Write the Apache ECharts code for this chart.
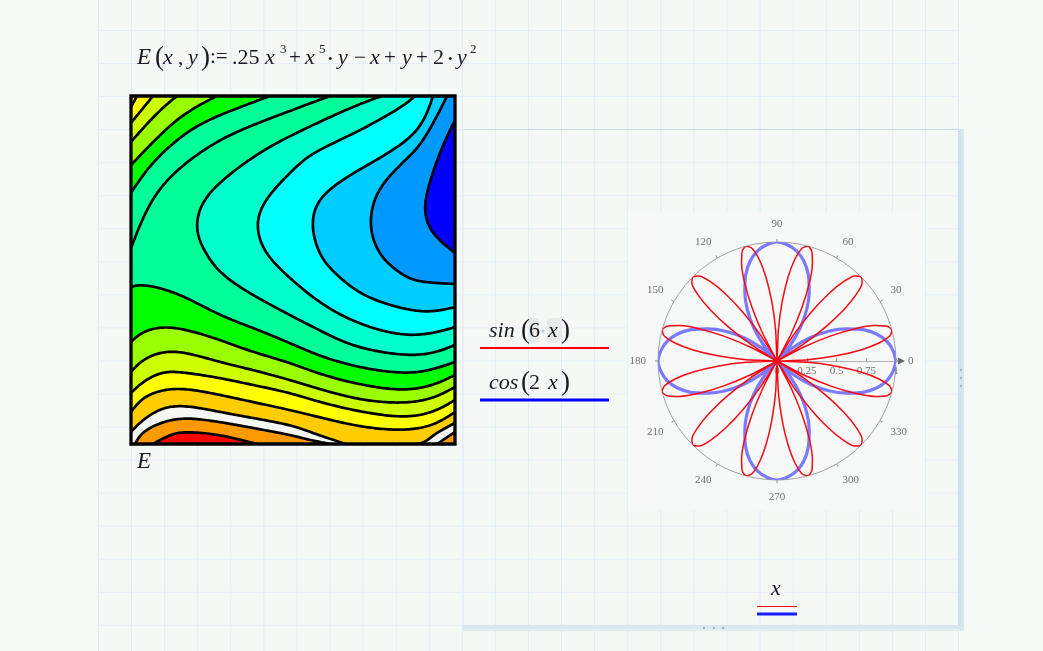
<!DOCTYPE html>
<html><head><meta charset="utf-8">
<style>
html,body{margin:0;padding:0;width:1043px;height:651px;overflow:hidden;background:#f5faf7}
.abs{position:absolute}
#sheet{left:98px;top:0;width:861px;height:651px;background-color:#f5f9f6;
 background-image:linear-gradient(to right,#dfedf7 1px,transparent 1px),linear-gradient(to bottom,#e4eff7 1px,transparent 1px);
 background-size:33.08px 33.06px;background-position:0 0,0 30px}
#patch{left:628px;top:212px;width:297px;height:298px;background:#f6f9f7}
#topline{left:462px;top:129px;width:497px;height:1px;background:#c4d9e9}
#leftline{left:462px;top:129px;width:2px;height:496px;background:#e6f0f6}
#rbar{left:958px;top:129px;width:6px;height:502px;background:linear-gradient(to right,#cfe0ea,#dbe8f0)}
#bbar{left:462px;top:625px;width:502px;height:6px;background:linear-gradient(to bottom,#d8e5ee,#e3edf3)}
.dot{width:2px;height:2px;background:#9fb0bb}
#c{left:0;top:0;width:1043px;height:651px}
</style></head><body>
<div class="abs" id="sheet"></div>
<div class="abs" id="patch"></div>
<div class="abs" id="topline"></div>
<div class="abs" id="leftline"></div>
<div class="abs" id="rbar"></div>
<div class="abs" id="bbar"></div>
<div class="abs dot" style="left:703px;top:627px"></div>
<div class="abs dot" style="left:713px;top:627px"></div>
<div class="abs dot" style="left:722px;top:627px"></div>
<div class="abs dot" style="left:960px;top:369px"></div>
<div class="abs dot" style="left:960px;top:377px"></div>
<div class="abs dot" style="left:960px;top:385px"></div>
<div class="abs" id="c"></div>
<script src="https://cdn.jsdelivr.net/npm/echarts@6/dist/echarts.min.js"></script>
<script>
// Contour lines of E as [x, y] on the plot's -1..1 axes (y grows downward)
const lineBlue = [[1,-.862],[.926,-.718],[.858,-.546],[.815,-.391],[.827,-.276],[.889,-.184],[1,-.098]];
const lineAzure = [[.951,-1],[.802,-.736],[.660,-.603],[.519,-.448],[.475,-.259],[.537,-.086],[.679,.029],[.802,.069],[1,.080]];
const lineSky = [[.864,-1],[.784,-.816],[.599,-.678],[.352,-.546],[.167,-.414],[.117,-.259],[.167,-.086],[.272,.029],[.432,.144],[.660,.218],[.846,.241],[1,.213]];
const lineCyan = [[.753,-1],[.660,-.931],[.395,-.793],[.123,-.672],[-.019,-.557],[-.160,-.414],[-.222,-.276],[-.185,-.126],[-.062,.011],[.185,.201],[.432,.316],[.679,.374],[.864,.362],[1,.328]];
const lineAqua = [[.549,-1],[.352,-.931],[-.019,-.770],[-.247,-.649],[-.469,-.489],[-.574,-.356],[-.593,-.218],[-.531,-.086],[-.432,.029],[-.247,.144],[-.019,.259],[.185,.356],[.395,.443],[.679,.489],[.864,.477],[1,.431]];
const lineTop1 = [[.228,-1],[-.019,-.914],[-.247,-.833],[-.451,-.747],[-.654,-.621],[-.821,-.471],[-.926,-.299],[-1,-.126]];
const lineTop2 = [[-.142,-1],[-.451,-.891],[-.654,-.793],[-.864,-.621],[-1,-.443]];
const lineTop3 = [[-.469,-1],[-.654,-.908],[-.821,-.776],[-1,-.603]];
const lineTop4 = [[-.716,-1],[-.840,-.902],[-1,-.736]];
const lineTop5 = [[-.864,-1],[-1,-.845]];
const lineTop6 = [[-.963,-1],[-1,-.937]];
const xsLow = [-1,-.926,-.802,-.654,-.451,-.247,-.019,.185,.432,.679,.864,1];
const lineLow1 = [[-1,.098],[-.944,.086],[-.821,.103],[-.654,.161],[-.451,.259],[-.247,.333],[-.019,.420],[.185,.5],[.432,.563],[.679,.592],[.846,.575],[1,.529]];
const yLow2 = [.414,.356,.328,.345,.402,.471,.534,.603,.661,.690,.661,.603];
const yLow3 = [.586,.517,.471,.477,.529,.575,.632,.690,.747,.764,.736,.672];
const yLow4 = [.707,.644,.586,.592,.621,.661,.707,.764,.816,.845,.816,.747];
const yLow5 = [.816,.736,.690,.684,.718,.759,.805,.851,.902,.920,.891,.816];
const lineWhite = [[-1,.931],[-.926,.862],[-.802,.793],[-.654,.782],[-.451,.816],[-.247,.851],[-.019,.891],[.123,.937],[.290,.989],[.395,1.01],[.765,1.01],[.864,.948],[1,.879]];
const lineOrange = [[-.975,1],[-.926,.931],[-.802,.874],[-.654,.851],[-.451,.874],[-.247,.908],[-.019,.948],[.105,.977],[.228,1]];
const lineOrangeCorner = [[.889,1],[1,.931]];
const lineRed = [[-.864,1],[-.759,.948],[-.654,.931],[-.451,.948],[-.222,1]];

const NE = [[1,-1]], NW = [[-1,-1]], S = [[1,1],[-1,1]], SE = [[1,1]];
const pair = ys => ys.map((y,i)=>[xsLow[i],y]);
const PAGE = '#f5f9f6';
const contours = [
 {p:lineAqua,fill:'#00ffcc',close:NE},{p:lineCyan,fill:'#00ffff',close:NE},{p:lineSky,fill:'#00ccff',close:NE},
 {p:lineAzure,fill:'#0099ff',close:NE},{p:lineBlue,fill:'#0000ff',close:[]},
 {p:lineTop1,fill:'#00ff99',close:NW},{p:lineTop2,fill:'#00ff00',close:NW},{p:lineTop3,fill:'#99ff00',close:NW},
 {p:lineTop4,fill:'#ccff00',close:NW},{p:lineTop5,fill:'#ffff00',close:NW},{p:lineTop6,fill:'#ffcc00',close:NW},
 {p:lineLow1,fill:'#00ff00',close:S},{p:pair(yLow2),fill:'#99ff00',close:S},{p:pair(yLow3),fill:'#ccff00',close:S},
 {p:pair(yLow4),fill:'#ffff00',close:S},{p:pair(yLow5),fill:'#ffcc00',close:S},{p:lineWhite,fill:PAGE,close:S},
 {p:lineOrange,fill:'#ff9900',close:[]},{p:lineOrangeCorner,fill:'#ff9900',close:SE},{p:lineRed,fill:'#ff0000',close:[]}
];

// Polar traces: radius at each angle, 0..360 degrees
const redStepDeg = 2.5, blueStepDeg = 5;
const sin6Radius = [
0,.26,.5,.71,.87,.97,1,.97,.87,.71,.5,.26,
0,.26,.5,.71,.87,.97,1,.97,.87,.71,.5,.26,
0,.26,.5,.71,.87,.97,1,.97,.87,.71,.5,.26,
0,.26,.5,.71,.87,.97,1,.97,.87,.71,.5,.26,
0,.26,.5,.71,.87,.97,1,.97,.87,.71,.5,.26,
0,.26,.5,.71,.87,.97,1,.97,.87,.71,.5,.26,
0,.26,.5,.71,.87,.97,1,.97,.87,.71,.5,.26,
0,.26,.5,.71,.87,.97,1,.97,.87,.71,.5,.26,
0,.26,.5,.71,.87,.97,1,.97,.87,.71,.5,.26,
0,.26,.5,.71,.87,.97,1,.97,.87,.71,.5,.26,
0,.26,.5,.71,.87,.97,1,.97,.87,.71,.5,.26,
0,.26,.5,.71,.87,.97,1,.97,.87,.71,.5,.26,0];
const cos2Radius = [
1,.98,.94,.87,.77,.64,.5,.34,.17,0,.17,.34,.5,.64,.77,.87,.94,.98,
1,.98,.94,.87,.77,.64,.5,.34,.17,0,.17,.34,.5,.64,.77,.87,.94,.98,
1,.98,.94,.87,.77,.64,.5,.34,.17,0,.17,.34,.5,.64,.77,.87,.94,.98,
1,.98,.94,.87,.77,.64,.5,.34,.17,0,.17,.34,.5,.64,.77,.87,.94,.98,1];
const radiusTicks = ['0','0.25','0.5','0.75','1'];

// Worksheet math text: [text, left, baseline, italic, size]
const formula = [
 ['E',137,64,1,23],['(',155,65,0,27],['x',163,64,1,22],[',',178,64,0,21],['y',188,64,1,22],[')',201,65,0,27],
 [':=',210,63,0,21],['.25',232,64,0,22],['x',265,64,1,22],['3',280,53,0,13],['+',289,64,0,21],['x',305,64,1,22],['5',319,53,0,13],
 ['•',328,63,0,13],['y',338,64,1,22],['−',354,64,0,21],['x',370,64,1,22],['+',384,64,0,21],['y',402,64,1,22],['+',416,64,0,21],
 ['2',433,64,0,22],['•',448,63,0,13],['y',457,64,1,22],['2',470,53,0,13],
 ['E',137,468,1,23],
 ['sin',489,337,1,22],['(',521,338,0,27],['6',529,337,0,22],['x',548,337,1,22],[')',561,338,0,27],
 ['cos',489,389,1,22],['(',521,390,0,27],['2',529,389,0,22],['x',548,389,1,22],[')',561,390,0,27],
 ['x',771,595,1,22]
];
const highlights = [[529,318,10,25],[547,318,14,25]];
const rules = [[480,348,609,348,'#ff0000',2.2],[480,400,609,400,'#0000ff',3.2],[757,606.5,797,606.5,'#ff0000',1.2],[757,614,797,614,'#1a1aff',3]];

function spline(pts){
  if(pts.length<3) return pts;
  const out=[];
  for(let i=0;i<pts.length-1;i++){
    const a=pts[Math.max(i-1,0)],b=pts[i],c=pts[i+1],d=pts[Math.min(i+2,pts.length-1)];
    for(let k=0;k<16;k++){
      const t=k/16,t2=t*t,t3=t2*t;
      out.push([0,1].map(j=>.5*(2*b[j]+(c[j]-a[j])*t+(2*a[j]-5*b[j]+4*c[j]-d[j])*t2+(3*b[j]-a[j]-3*c[j]+d[j])*t3)));
    }
  }
  out.push(pts[pts.length-1]);
  // soften the joints between the read-off points (drawing only)
  let cur=out;
  for(let pass=0;pass<2;pass++){
    cur=cur.map((q,i)=>{
      const r=Math.min(6,i,cur.length-1-i);
      let sx=0,sy=0;
      for(let k=-r;k<=r;k++){sx+=cur[i+k][0];sy+=cur[i+k][1];}
      return [sx/(2*r+1),sy/(2*r+1)];
    });
  }
  return cur;
}

const chart = echarts.init(document.getElementById('c'),null,{width:1043,height:651,renderer:'canvas'});
const serif = '"Liberation Serif","DejaVu Serif",serif';
const graphics = [];
highlights.forEach(h=>graphics.push({type:'rect',shape:{x:h[0],y:h[1],width:h[2],height:h[3],r:3},style:{fill:'#e7eae8'},silent:true}));
graphics.push({type:'circle',shape:{cx:543,cy:331,r:1.5},style:{fill:'#a9cdea'},silent:true});
rules.forEach(r=>graphics.push({type:'line',shape:{x1:r[0],y1:r[1],x2:r[2],y2:r[3]},style:{stroke:r[4],lineWidth:r[5]},silent:true}));
formula.forEach(f=>graphics.push({type:'text',x:f[1],y:f[2]-f[4]*.78,silent:true,style:{text:f[0],fill:'#1a1a22',
  font:(f[3]?'italic ':'')+f[4]+'px '+serif,align:'left',verticalAlign:'top'}}));
graphics.push({type:'line',shape:{x1:896,y1:361,x2:899,y2:361},style:{stroke:'#aaa',lineWidth:1},silent:true});
graphics.push({type:'polygon',shape:{points:[[898,357.5],[905,361],[898,364.5]]},style:{fill:'#666'},silent:true});

chart.setOption({
 animation:false,
 backgroundColor:'transparent',
 graphic:graphics,
 grid:{left:131,top:96,width:324,height:348,show:true,backgroundColor:'#00ff99',borderWidth:0},
 xAxis:{type:'value',min:-1,max:1,show:false},
 yAxis:{type:'value',min:-1,max:1,inverse:true,show:false},
 polar:{center:[777,361],radius:119},
 angleAxis:{type:'value',min:0,max:360,interval:30,startAngle:0,clockwise:false,
   axisLine:{lineStyle:{color:'#a0a0a0',width:1}},
   axisTick:{show:true,length:3,lineStyle:{color:'#888'}},
   splitLine:{show:false},
   axisLabel:{color:'#6e6e6e',fontFamily:serif,fontSize:11,margin:12}},
 radiusAxis:{type:'value',min:0,max:1,interval:.25,
   axisLine:{show:true,lineStyle:{color:'#b0b0b0',width:1}},
   axisTick:{show:true,length:3,lineStyle:{color:'#999'}},
   splitLine:{show:false},
   axisLabel:{color:'#6e6e6e',fontFamily:serif,fontSize:11,margin:-16,
     formatter:v=>radiusTicks[Math.round(v*4)]}},
 series:[
  {type:'custom',coordinateSystem:'cartesian2d',clip:true,silent:true,z:2,
   data:contours.map((c,i)=>[0,0,i]),encode:{x:0,y:1},
   renderItem(params,api){
     const c=contours[api.value(2)];
     const line=spline(c.p.map(q=>api.coord(q)));
     const poly=line.concat(c.close.map(q=>api.coord(q)));
     return {type:'group',children:[
       {type:'polygon',shape:{points:poly},style:{fill:c.fill}},
       {type:'polyline',shape:{points:line},style:{stroke:'#000',lineWidth:2.7,fill:null}}
     ]};
   }},
  {type:'custom',coordinateSystem:'cartesian2d',clip:false,silent:true,z:3,
   data:[[0,0]],encode:{x:0,y:1},
   renderItem(params,api){
     const a=api.coord([-1,-1]),b=api.coord([1,1]);
     return {type:'rect',shape:{x:a[0],y:a[1],width:b[0]-a[0],height:b[1]-a[1]},style:{fill:null,stroke:'#000',lineWidth:3.3}};
   }},
  {name:'cos(2 x)',type:'line',coordinateSystem:'polar',showSymbol:false,silent:true,smooth:.2,z:4,
   lineStyle:{color:'#7a7aff',width:3.2},
   data:cos2Radius.map((r,i)=>[r,i*blueStepDeg])},
  {name:'sin(6 x)',type:'line',coordinateSystem:'polar',showSymbol:false,silent:true,smooth:.2,z:5,
   lineStyle:{color:'#f50a14',width:1.5},
   data:sin6Radius.map((r,i)=>[r,i*redStepDeg])}
 ]
});
</script>
</body></html>
